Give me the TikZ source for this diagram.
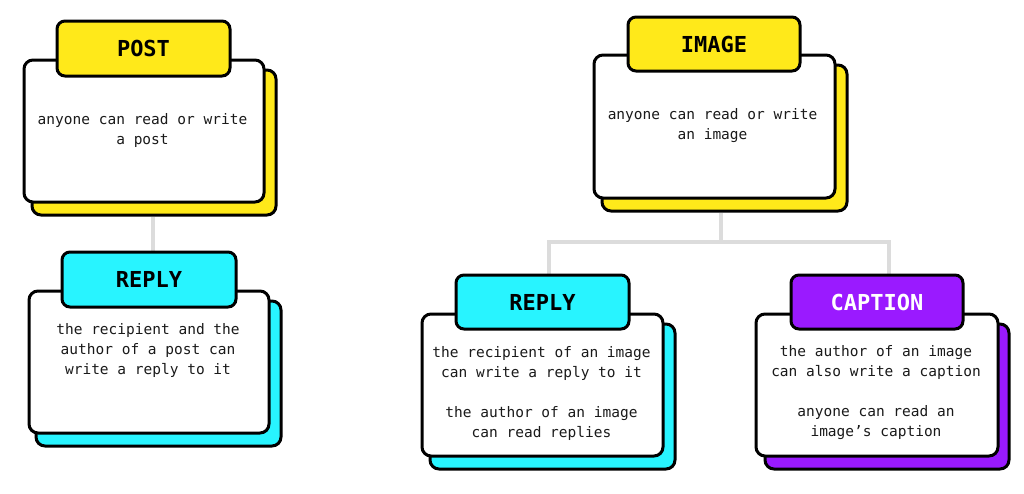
\documentclass[tikz,border=0pt]{standalone}
\usepackage{fontspec}
\setmonofont{DejaVu Sans Mono}
\usetikzlibrary{positioning}
\definecolor{cyel}{HTML}{FFE91A}
\definecolor{ccyan}{HTML}{28F4FF}
\definecolor{cpurp}{HTML}{9A1AFF}
\definecolor{cline}{HTML}{DCDCDC}
\definecolor{ctext}{HTML}{1A1A1A}
\pgfdeclarelayer{bg}
\pgfsetlayers{bg,main}
\tikzset{
  box/.style={draw=black, line width=3pt, rounded corners=9pt, inner sep=0pt, anchor=north west},
  shadowbox/.style={box},
  mainbox/.style={box, fill=white},
  titlebox/.style={box, rounded corners=8pt},
  titletext/.style={font=\fontsize{22}{24}\selectfont\ttfamily\bfseries},
  bodytext/.style={font=\fontsize{14.5}{20}\selectfont\ttfamily, text=ctext, align=center, inner sep=0pt},
  conn/.style={draw=cline, line width=4pt},
}
\begin{document}
\begin{tikzpicture}[x=1pt,y=-1pt]
\useasboundingbox (0,0) rectangle (1024,493);
% POST
\node[shadowbox, fill=cyel, minimum width=244pt, minimum height=145pt] (postsh) at (30.5,68.5) {};
\node[mainbox, minimum width=240pt, minimum height=142pt] (postmain) at (22.5,58.5) {};
\node[titlebox, fill=cyel, minimum width=173pt, minimum height=55pt, titletext] (posttitle) at (55.5,19.5) {POST};
\node[bodytext] (posttext) at (142.5,130) {anyone can read or write\\a post};
% REPLY left
\node[shadowbox, fill=ccyan, minimum width=245pt, minimum height=145pt] (rep1sh) at (34.5,299.5) {};
\node[mainbox, minimum width=240pt, minimum height=142pt] (rep1main) at (27.5,289.5) {};
\node[titlebox, fill=ccyan, minimum width=174pt, minimum height=55pt, titletext] (rep1title) at (60.5,250.5) {REPLY};
\node[bodytext] (rep1text) at (148,350) {the recipient and the\\author of a post can\\write a reply to it};
% IMAGE
\node[shadowbox, fill=cyel, minimum width=245pt, minimum height=146pt] (imgsh) at (600.5,63.5) {};
\node[mainbox, minimum width=241pt, minimum height=143pt] (imgmain) at (592.5,53.5) {};
\node[titlebox, fill=cyel, minimum width=172pt, minimum height=54pt, titletext] (imgtitle) at (626.5,15.5) {IMAGE};
\node[bodytext] (imgtext) at (712.5,126) {anyone can read or write\\an image};
% REPLY right
\node[shadowbox, fill=ccyan, minimum width=245pt, minimum height=145pt] (rep2sh) at (428.5,322.5) {};
\node[mainbox, minimum width=241pt, minimum height=142pt] (rep2main) at (420.5,312.5) {};
\node[titlebox, fill=ccyan, minimum width=173pt, minimum height=54pt, titletext] (rep2title) at (454.5,273.5) {REPLY};
\node[bodytext] (rep2text) at (541.5,393) {the recipient of an image\\can write a reply to it\\[20pt]the author of an image\\can read replies};
% CAPTION
\node[shadowbox, fill=cpurp, minimum width=244pt, minimum height=145pt] (capsh) at (763.5,322.5) {};
\node[mainbox, minimum width=242pt, minimum height=142pt] (capmain) at (754.5,312.5) {};
\node[titlebox, fill=cpurp, minimum width=172pt, minimum height=54pt, titletext, text=white] (captitle) at (789.5,273.5) {CAPTION};
\node[bodytext] (captext) at (876,393) {the author of an image\\can also write a caption\\[20pt]anyone can read an\\image’s caption};
% connectors
\begin{pgfonlayer}{bg}
\draw[conn] (postsh.south -| 153,0) -- (153,0 |- rep1title.north);
\coordinate (junc) at ([yshift=-29pt]imgsh.south -| 721,0);
\draw[conn] (imgsh.south -| junc) -- (junc);
\draw[conn] (junc) -| ([xshift=-3.5pt]rep2sh.north);
\draw[conn] (junc) -| ([xshift=1.5pt]capsh.north);
\end{pgfonlayer}
\end{tikzpicture}
\end{document}
